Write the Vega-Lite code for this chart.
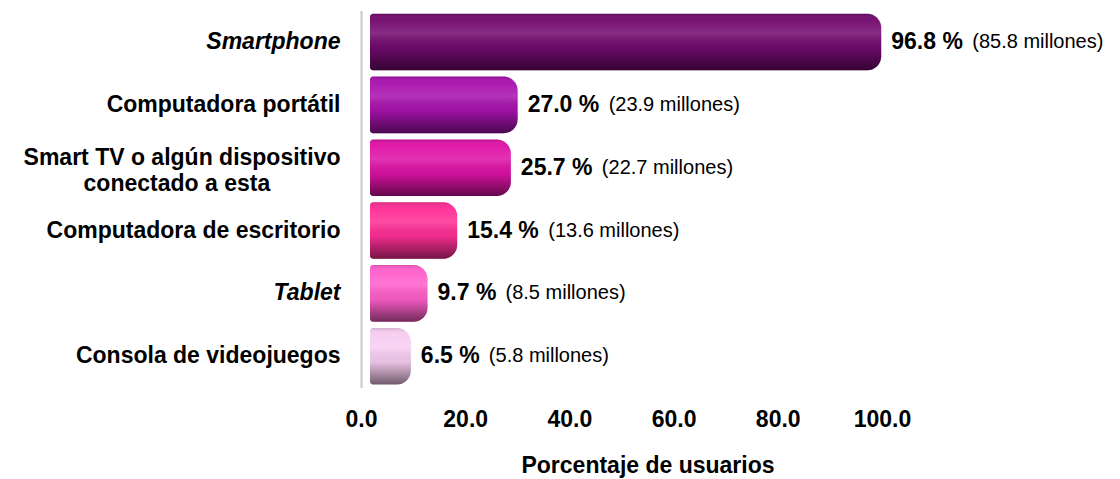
{
  "$schema": "https://vega.github.io/schema/vega-lite/v6.json",
  "width": 573,
  "height": 377,
  "autosize": {"type": "none"},
  "padding": {"left": 361, "top": 10.6, "right": 186, "bottom": 91.4},
  "background": "white",
  "config": {"font": "Liberation Sans", "view": {"stroke": null}},
  "data": {
    "values": [
      {"dispositivo": "Smartphone", "porcentaje": 96.8, "millones": 85.8},
      {"dispositivo": "Computadora portátil", "porcentaje": 27.0, "millones": 23.9},
      {"dispositivo": "Smart TV o algún dispositivo conectado a esta", "porcentaje": 25.7, "millones": 22.7},
      {"dispositivo": "Computadora de escritorio", "porcentaje": 15.4, "millones": 13.6},
      {"dispositivo": "Tablet", "porcentaje": 9.7, "millones": 8.5},
      {"dispositivo": "Consola de videojuegos", "porcentaje": 6.5, "millones": 5.8}
    ]
  },
  "encoding": {
    "y": {
      "field": "dispositivo",
      "type": "nominal",
      "sort": null,
      "scale": {"paddingInner": 0.1, "paddingOuter": 0.05},
      "axis": {
        "title": null,
        "domainColor": "#C8C8C8",
        "domainWidth": 2,
        "ticks": false,
        "tickSize": 0,
        "labelPadding": 21,
        "labelFont": "Liberation Sans",
        "labelFontSize": 23,
        "labelFontWeight": "bold",
        "labelColor": "#000000",
        "labelAlign": "right",
        "labelLimit": 400,
        "labelLineHeight": 26,
        "labelOffset": {"condition": {"test": "indexof(datum.value, 'Smart TV') === 0", "value": -10}, "value": 0},
        "labelFontStyle": {"condition": {"test": "datum.value === 'Smartphone' || datum.value === 'Tablet'", "value": "italic"}, "value": "normal"},
        "labelExpr": "datum.value === 'Smart TV o algún dispositivo conectado a esta' ? ['Smart TV o algún dispositivo', 'conectado a esta\u00a0\u00a0\u00a0\u00a0\u00a0\u00a0\u00a0\u00a0\u00a0\u00a0\u00a0\u200b'] : datum.value"
      }
    },
    "x": {
      "field": "porcentaje",
      "type": "quantitative",
      "scale": {"domain": [0, 110], "nice": false, "zero": true},
      "axis": {
        "values": [0, 20, 40, 60, 80, 100],
        "format": ".1f",
        "domain": false,
        "ticks": false,
        "tickSize": 0,
        "grid": false,
        "labelPadding": 21,
        "labelFont": "Liberation Sans",
        "labelFontSize": 23,
        "labelFontWeight": "bold",
        "labelColor": "#000000",
        "labelFlush": false,
        "title": "Porcentaje de usuarios",
        "titleFont": "Liberation Sans",
        "titleFontSize": 23,
        "titleFontWeight": "bold",
        "titleColor": "#000000",
        "titlePadding": 23
      }
    }
  },
  "layer": [
    {
      "mark": {"type": "bar", "xOffset": 16, "x2Offset": 9, "cornerRadiusTopRight": 14, "cornerRadiusBottomRight": 14, "cornerRadiusTopLeft": 3, "cornerRadiusBottomLeft": 3},
      "encoding": {
        "x2": {"datum": 0},
        "color": {
          "field": "dispositivo",
          "type": "nominal",
          "legend": null,
          "scale": {
            "domain": ["Smartphone", "Computadora portátil", "Smart TV o algún dispositivo conectado a esta", "Computadora de escritorio", "Tablet", "Consola de videojuegos"],
            "range": ["#720A6E", "#A812AE", "#DE12A6", "#FF2E96", "#FF5FCB", "#F7CDF0"]
          }
        }
      }
    },
    {
      "mark": {
        "type": "bar", "xOffset": 16, "x2Offset": 9, "cornerRadiusTopRight": 14, "cornerRadiusBottomRight": 14, "cornerRadiusTopLeft": 3, "cornerRadiusBottomLeft": 3,
        "color": {
          "gradient": "linear", "x1": 0, "y1": 0, "x2": 0, "y2": 1,
          "stops": [
            {"offset": 0, "color": "rgba(0,0,0,0.15)"},
            {"offset": 0.1, "color": "rgba(255,255,255,0.03)"},
            {"offset": 0.35, "color": "rgba(255,255,255,0.14)"},
            {"offset": 0.6, "color": "rgba(0,0,0,0.06)"},
            {"offset": 1, "color": "rgba(0,0,0,0.55)"}
          ]
        }
      },
      "encoding": {"x2": {"datum": 0}}
    },
    {
      "transform": [{"calculate": "format(datum.porcentaje, '.1f') + ' %'", "as": "etiqueta"}],
      "mark": {"type": "text", "align": "left", "baseline": "middle", "dx": 26, "font": "Liberation Sans", "fontSize": 23, "fontWeight": "bold", "color": "#000000"},
      "encoding": {"text": {"field": "etiqueta"}}
    },
    {
      "transform": [
        {"filter": "datum.porcentaje >= 10"},
        {"calculate": "'(' + format(datum.millones, '.1f') + ' millones)'", "as": "etiqueta2"}
      ],
      "mark": {"type": "text", "align": "left", "baseline": "middle", "dx": 107, "font": "Liberation Sans", "fontSize": 20, "color": "#000000"},
      "encoding": {"text": {"field": "etiqueta2"}}
    },
    {
      "transform": [
        {"filter": "datum.porcentaje < 10"},
        {"calculate": "'(' + format(datum.millones, '.1f') + ' millones)'", "as": "etiqueta2"}
      ],
      "mark": {"type": "text", "align": "left", "baseline": "middle", "dx": 94, "font": "Liberation Sans", "fontSize": 20, "color": "#000000"},
      "encoding": {"text": {"field": "etiqueta2"}}
    }
  ]
}
